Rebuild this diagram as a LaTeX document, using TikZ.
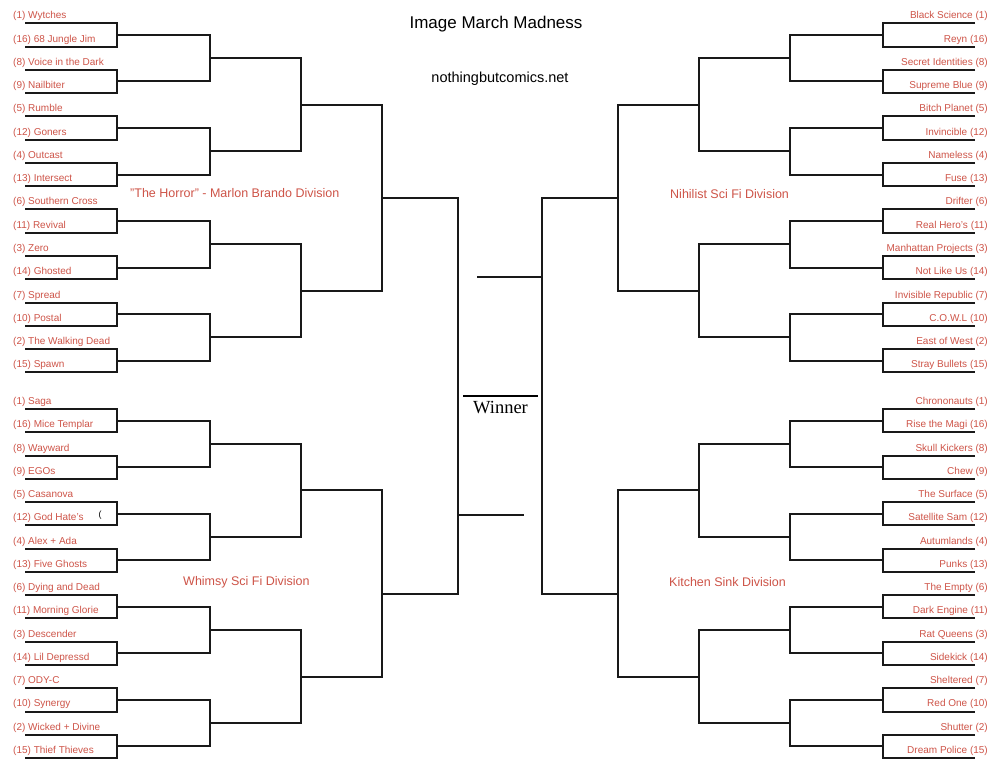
\documentclass[tikz,border=0pt]{standalone}
\usepackage{fontspec}
\setmainfont{Liberation Sans}
\newfontfamily\winnerfont{Liberation Serif}
\usepackage{xcolor}
\usepackage{tikz}
\usetikzlibrary{positioning}
\definecolor{seedred}{RGB}{206,84,72}

\begin{document}
\begin{tikzpicture}[
    x=1pt, y=-1pt,
    bracket/.style={draw=black!90, line width=2pt},
    team/.style={font=\fontsize{10}{12}\selectfont, text=seedred, inner sep=0pt},
    division/.style={font=\fontsize{12.5}{15}\selectfont, text=seedred, inner sep=0pt, anchor=west}
  ]
  \useasboundingbox (0,0) rectangle (1000,773);
  \fill[white] (0,0) rectangle (1000,773);

  \node[font=\fontsize{17}{20}\selectfont] (title) at (496,24) {Image March Madness};
  \node[font=\fontsize{14.5}{17}\selectfont] (site) at (500,79) {nothingbutcomics.net};

  \foreach \side in {1,-1} {
    \begin{scope}[xshift={(1-\side)*500pt}, xscale=\side]
      \foreach \yo in {23.3, 409} {
        \foreach \lvl/\xa/\xb in {1/25/117, 2/117/210, 3/210/301, 4/301/382} {
          \pgfmathtruncatemacro\last{2^(4-\lvl)-1}
          \foreach \k in {0,...,\last} {
            \pgfmathsetmacro\ta{\yo+(2^(\lvl-1)-1)/2*23.27+\k*2^\lvl*23.27}
            \pgfmathsetmacro\tb{\ta+2^(\lvl-1)*23.27}
            \draw[bracket] (\xa,\ta) -| (\xb,\tb) -- (\xa,\tb);
          }
        }
      }
      \draw[bracket] (382,197.8) -| (458,594) -- (382,594);
    \end{scope}
  }

  \coordinate (lstubA) at (458,515);
  \coordinate (lstubB) at (524,515);
  \coordinate (rstubA) at (542,277);
  \coordinate (rstubB) at (477,277);
  \draw[bracket] (lstubA) -- (lstubB);
  \draw[bracket] (rstubA) -- (rstubB);

  \coordinate (winL) at (463,396);
  \coordinate (winR) at (538,396);
  \draw[black, line width=1.5pt] (winL) -- (winR);
  \node[font=\winnerfont\fontsize{18.5}{20}\selectfont, anchor=north, inner sep=1pt] (winner) at (500.5,400) {Winner};

  \foreach \s/\t [count=\i from 0] in {1/Wytches, 16/68 Jungle Jim, 8/Voice in the Dark, 9/Nailbiter,
      5/Rumble, 12/Goners, 4/Outcast, 13/Intersect, 6/Southern Cross, 11/Revival, 3/Zero, 14/Ghosted,
      7/Spread, 10/Postal, 2/The Walking Dead, 15/Spawn}
    \node[team, anchor=base west] (lt\i) at (13,{23.3+\i*23.27-4.5}) {(\s) \t};

  \foreach \s/\t [count=\i from 0] in {1/Saga, 16/Mice Templar, 8/Wayward, 9/EGOs,
      5/Casanova, 12/God Hate's, 4/Alex + Ada, 13/Five Ghosts, 6/Dying and Dead, 11/Morning Glorie,
      3/Descender, 14/Lil Depressd, 7/ODY-C, 10/Synergy, 2/Wicked + Divine, 15/Thief Thieves}
    \node[team, anchor=base west] (lb\i) at (13,{409+\i*23.25-4.5}) {(\s) \t};

  \foreach \t/\s [count=\i from 0] in {Black Science/1, Reyn/16, Secret Identities/8, Supreme Blue/9,
      Bitch Planet/5, Invincible/12, Nameless/4, Fuse/13, Drifter/6, Real Hero's/11,
      Manhattan Projects/3, Not Like Us/14, Invisible Republic/7, C.O.W.L/10, East of West/2,
      Stray Bullets/15}
    \node[team, anchor=base east] (rt\i) at (988,{23.3+\i*23.27-4.5}) {\t\ (\s)};

  \foreach \t/\s [count=\i from 0] in {Chrononauts/1, Rise the Magi/16, Skull Kickers/8, Chew/9,
      The Surface/5, Satellite Sam/12, Autumlands/4, Punks/13, The Empty/6, Dark Engine/11,
      Rat Queens/3, Sidekick/14, Sheltered/7, Red One/10, Shutter/2, Dream Police/15}
    \node[team, anchor=base east] (rb\i) at (988,{409+\i*23.25-4.5}) {\t\ (\s)};

  \node[font=\fontsize{9}{10}\selectfont, inner sep=0pt] (mark) at (100,515) {(};

  \node[division] (horror) at (130,193) {"The Horror" - Marlon Brando Division};
  \node[division] (whimsy) at (183,582) {Whimsy Sci Fi Division};
  \node[division] (nihilist) at (670,194) {Nihilist Sci Fi Division};
  \node[division] (kitchen) at (669,582) {Kitchen Sink Division};
\end{tikzpicture}
\end{document}
